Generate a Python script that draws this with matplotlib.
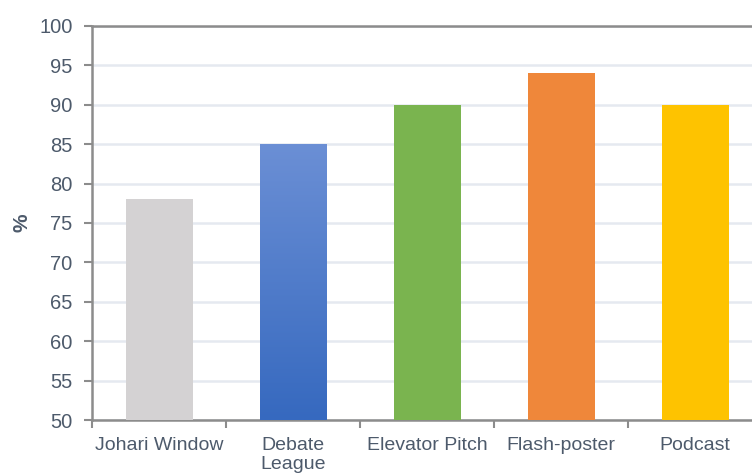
import matplotlib
matplotlib.use("Agg")
import matplotlib.pyplot as plt
import numpy as np
from matplotlib.colors import LinearSegmentedColormap

categories = ["Johari Window", "Debate\nLeague", "Elevator Pitch", "Flash-poster", "Podcast"]
values = [78, 85, 90, 94, 90]
colors = ["#d4d2d3", "#4a78c8", "#7ab44f", "#ef873a", "#fec300"]
yticks = [50, 55, 60, 65, 70, 75, 80, 85, 90, 95, 100]

plt.rcParams['font.family'] = ['Liberation Sans', 'DejaVu Sans']
txt = "#4d5a6b"

fig = plt.figure(figsize=(7.52, 4.75), dpi=100)
W, H = 752, 475
left, top, bottom = 92, 26, 420
right = 92 + 134 * 5
ax = fig.add_axes([left / W, 1 - bottom / H, (right - left) / W, (bottom - top) / H])

x = np.arange(len(categories))
bars = ax.bar(x, [v - 50 for v in values], bottom=50, width=0.5, color=colors,
              edgecolor="none", zorder=3)

# gradient for Debate League bar
b = bars[1]
grad = np.linspace(0, 1, 256).reshape(-1, 1)
cmap = LinearSegmentedColormap.from_list("g", ["#3669bf", "#6b8fd5"])
bx, by, bw, bh = b.get_x(), b.get_y(), b.get_width(), b.get_height()
im = ax.imshow(grad, extent=[bx, bx + bw, by, by + bh], origin="lower", cmap=cmap,
               aspect="auto", zorder=4)
im.set_clip_path(b)

ax.set_xlim(-0.5, len(categories) - 0.5)
ax.set_ylim(50, 100)
ax.set_yticks(yticks)
ax.set_xticks(np.arange(len(categories) + 1) - 0.5, minor=False)
ax.set_xticklabels([])
ax.set_xticks(x, minor=True)
ax.set_xticklabels(categories, minor=True, fontsize=14, color=txt, linespacing=1.15)
ax.tick_params(axis="x", which="minor", length=0, pad=12)
ax.tick_params(axis="x", which="major", length=6, width=1.5, color="#8c8c8c")
ax.tick_params(axis="y", length=6, width=1.5, color="#8c8c8c", labelsize=14.5,
               labelcolor=txt, pad=8)

ax.yaxis.grid(True, color="#e5e9f0", linewidth=1.8, zorder=0)
ax.set_axisbelow(True)
for s in ["left", "bottom", "top"]:
    ax.spines[s].set_color("#8c8c8c")
    ax.spines[s].set_linewidth(1.8)
ax.spines["right"].set_visible(False)

ax.set_ylabel("%", fontsize=15, color=txt, fontweight="bold")
ax.yaxis.set_label_coords(-0.09, 0.5)

fig.savefig("out.png", dpi=100)
